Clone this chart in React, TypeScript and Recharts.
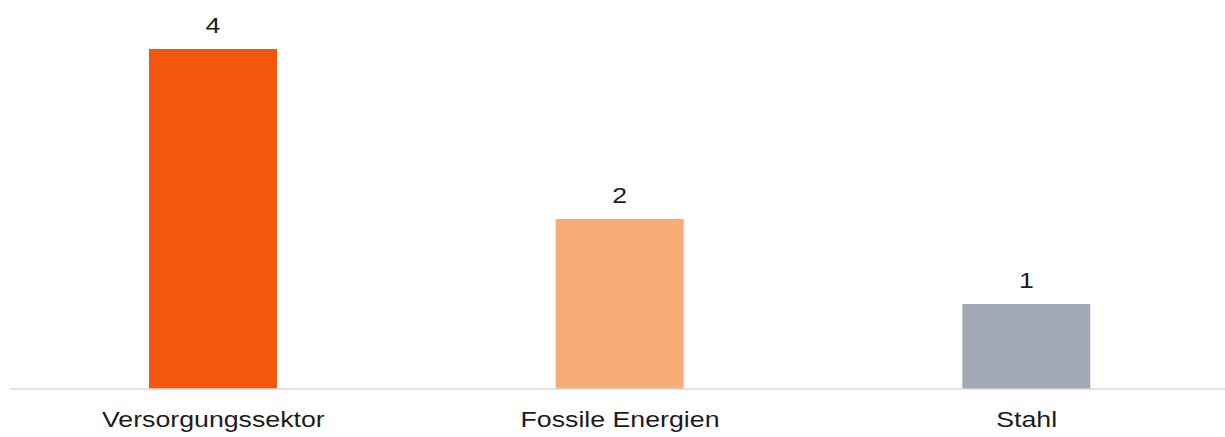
import React from 'react';
import { BarChart, Bar, XAxis, YAxis, Cell, LabelList } from 'recharts';

const categories = ['Versorgungssektor', 'Fossile Energien', 'Stahl'];
const values = [4, 2, 1];
const yDomain = [0, 4];

const COLORS = ['#F4560B', '#F9AC75', '#A2A8B4'];
const FONT = 'Liberation Sans, Arial, Helvetica, sans-serif';
const STRETCH = 1.215;

const data = categories.map((name, i) => ({ name, value: values[i] }));

const Tick = (props: any) => {
  const { x, y, payload } = props;
  return (
    <g transform={`translate(${x},${y + 38})`}>
      <text
        transform={`scale(${STRETCH},1)`}
        textAnchor="middle"
        fontSize={22}
        fontFamily={FONT}
        fill="#1c1c1c"
      >
        {payload.value}
      </text>
    </g>
  );
};

const TopLabel = (props: any) => {
  const { x, y, width, value } = props;
  return (
    <g transform={`translate(${Number(x) + Number(width) / 2},${Number(y) - 16.5})`}>
      <text
        transform={`scale(${STRETCH},1)`}
        textAnchor="middle"
        fontSize={22}
        fontFamily={FONT}
        fill="#1c1c1c"
      >
        {value}
      </text>
    </g>
  );
};

export default function App() {
  return (
    <div
      style={{
        position: 'absolute',
        left: 0,
        top: 0,
        width: 1225,
        height: 437,
        overflow: 'hidden',
        background: '#ffffff',
      }}
    >
      <BarChart
        width={1232}
        height={437}
        data={data}
        margin={{ top: 49, right: 2, bottom: 0, left: 10 }}
      >
        <XAxis
          dataKey="name"
          height={48}
          tickLine={false}
          tickSize={0}
          tickMargin={0}
          axisLine={{ stroke: '#D9D9D9', strokeWidth: 1.5 }}
          tick={<Tick />}
          interval={0}
        />
        <YAxis hide domain={yDomain} />
        <Bar dataKey="value" barSize={128} isAnimationActive={false}>
          {data.map((d, i) => (
            <Cell key={d.name} fill={COLORS[i]} />
          ))}
          <LabelList dataKey="value" content={<TopLabel />} />
        </Bar>
      </BarChart>
    </div>
  );
}
